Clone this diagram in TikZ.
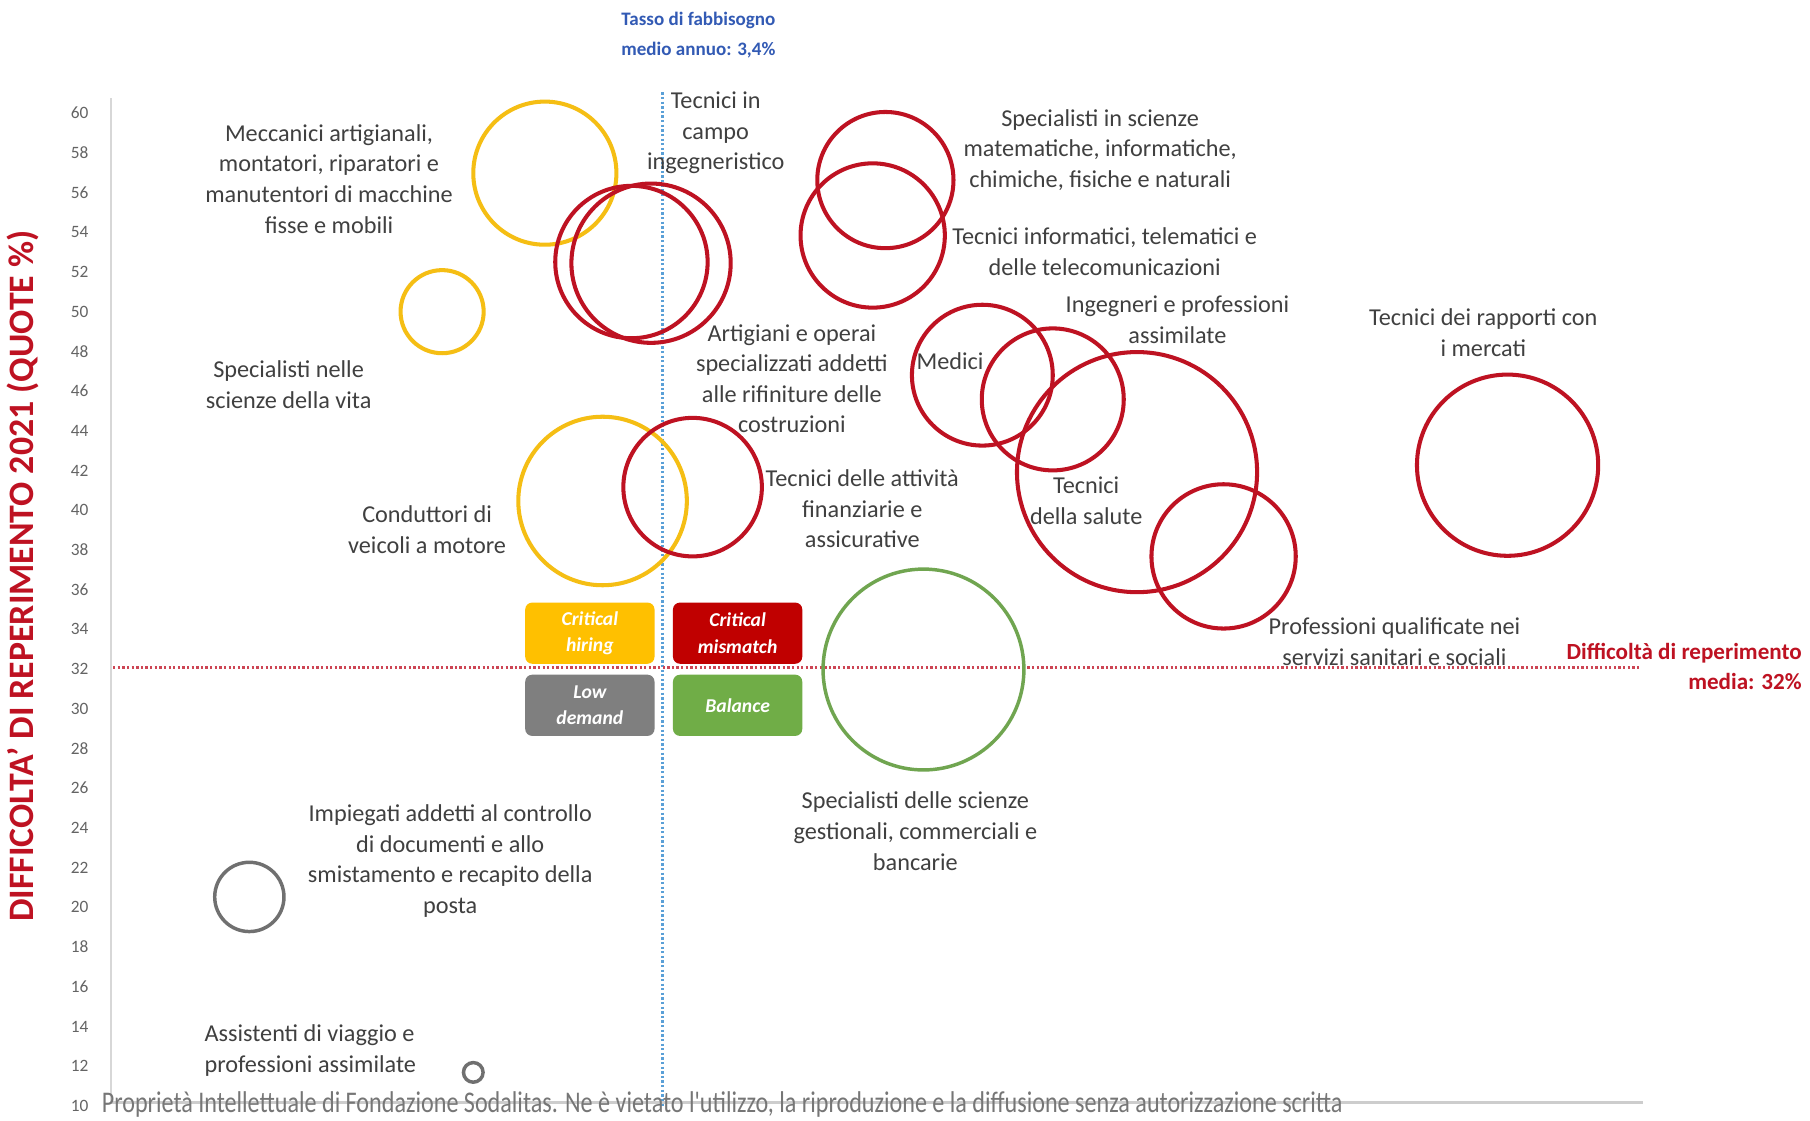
\documentclass[tikz,border=0pt]{standalone}
\usepackage{fontspec}
\setmainfont{Carlito}
\definecolor{cred}{RGB}{190,18,34}
\definecolor{cyel}{RGB}{245,190,20}
\definecolor{cgrn}{RGB}{112,165,80}
\definecolor{cgry}{RGB}{112,112,112}
\definecolor{ctext}{RGB}{64,64,64}
\definecolor{ctick}{RGB}{100,100,100}
\definecolor{cblue}{RGB}{50,90,180}
\definecolor{cdash}{RGB}{90,160,215}
\definecolor{chline}{RGB}{205,70,85}
\definecolor{boxy}{RGB}{255,192,0}
\definecolor{boxr}{RGB}{192,0,0}
\definecolor{boxg}{RGB}{112,173,71}
\definecolor{boxk}{RGB}{127,127,127}
\begin{document}
\begin{tikzpicture}[x=1pt,y=-1pt,
  lbl/.style={align=center, text=ctext, font=\fontsize{21}{26.5}\selectfont, inner sep=0pt},
  bub/.style={circle, inner sep=0pt, line width=3.5pt},
  redc/.style={bub, draw=cred},
  yelc/.style={bub, draw=cyel},
  grnc/.style={bub, draw=cgrn, line width=3pt},
  gryc/.style={bub, draw=cgry, line width=3pt},
  quad/.style={rounded corners=6pt, minimum width=112pt, minimum height=53pt, inner sep=0pt, align=center, text=white, font=\fontsize{17}{23}\selectfont\bfseries\itshape},
  tick/.style={text=ctick, font=\fontsize{15}{15}\selectfont, inner sep=0pt}
]
\useasboundingbox[fill=white] (0,0) rectangle (1568,971);

% axes
\draw[line width=1.5pt, draw={rgb,255:red,215;green,215;blue,215}] (96,85) -- (96,956);
\draw[line width=3pt, draw={rgb,255:red,205;green,205;blue,205}] (96,955) -- (1423,955);

% ticks
\foreach \v in {12,14,...,60}
  \node[tick] (t\v) at (69,{98+(60-\v)*17.2}) {\v};
\node[tick] (t10) at (69,958) {10};

% y label
\node[rotate=90, text=cred, font=\fontsize{31}{31}\selectfont\bfseries, inner sep=0pt] (ylab) at (20,499) {DIFFICOLTA' DI REPERIMENTO 2021 (QUOTE \%)};

% reference lines
\draw[line width=2pt, draw=cdash, dash pattern=on 2pt off 2pt] (574,80) -- (574,958);
\draw[line width=2.5pt, draw=chline, dash pattern=on 2pt off 2pt] (98,578) -- (1420,578);

% top and right labels
\node[align=center, text=cblue, font=\fontsize{16.5}{26}\selectfont\bfseries, inner sep=0pt] (tasso) at (605,30) {Tasso di fabbisogno\\medio annuo: 3,4\%};
\node[align=right, text=cred, font=\fontsize{20}{26}\selectfont\bfseries, inner sep=0pt, anchor=east] (diff) at (1561,577) {Difficoltà di reperimento\\media: 32\%};

% quadrant boxes
\node[quad, fill=boxy] (qch) at (511,548.5) {Critical\\hiring};
\node[quad, fill=boxr] (qcm) at (639,548.5) {Critical\\mismatch};
\node[quad, fill=boxk] (qld) at (511,611) {Low\\demand};
\node[quad, fill=boxg] (qbl) at (639,611) {Balance};

% bubbles
\node[yelc, minimum size=124pt] (b1) at (472,150) {};
\node[yelc, minimum size=72pt] (b2) at (383,270) {};
\node[yelc, minimum size=146pt] (b3) at (522,434) {};
\node[redc, minimum size=132pt] (b4) at (547,227) {};
\node[redc, minimum size=138pt] (b5) at (564,228) {};
\node[redc, minimum size=118pt] (b6) at (767,156) {};
\node[redc, minimum size=125pt] (b7) at (756,204) {};
\node[redc, minimum size=120pt] (b8) at (600,422) {};
\node[redc, minimum size=122pt] (b9) at (851,325) {};
\node[redc, minimum size=123pt] (b10) at (912,346) {};
\node[redc, minimum size=208pt] (b11) at (985,409) {};
\node[redc, minimum size=125pt] (b12) at (1060,482) {};
\node[redc, minimum size=157pt] (b13) at (1306,403) {};
\node[grnc, minimum size=174pt] (b14) at (800,580) {};
\node[gryc, minimum size=60pt] (b15) at (216,777) {};
\node[gryc, minimum size=17pt] (b16) at (410,929) {};

% labels
\node[lbl] (l1) at (285,155) {Meccanici artigianali,\\montatori, riparatori e\\manutentori di macchine\\fisse e mobili};
\node[lbl] (l2) at (620,115) {Tecnici in\\campo\\ingegneristico};
\node[lbl] (l3) at (953,130) {Specialisti in scienze\\matematiche, informatiche,\\chimiche, fisiche e naturali};
\node[lbl] (l4) at (957,218) {Tecnici informatici, telematici e\\delle telecomunicazioni};
\node[lbl] (l5) at (1020,277) {Ingegneri e professioni\\assimilate};
\node[lbl] (l6) at (1285,288) {Tecnici dei rapporti con\\i mercati};
\node[lbl] (l7) at (823,313) {Medici};
\node[lbl] (l8) at (686,328) {Artigiani e operai\\specializzati addetti\\alle rifiniture delle\\costruzioni};
\node[lbl] (l9) at (250,333) {Specialisti nelle\\scienze della vita};
\node[lbl] (l10) at (747,441) {Tecnici delle attività\\finanziarie e\\assicurative};
\node[lbl] (l11) at (941,434) {Tecnici\\della salute};
\node[lbl] (l12) at (370,459) {Conduttori di\\veicoli a motore};
\node[lbl] (l13) at (1208,556) {Professioni qualificate nei\\servizi sanitari e sociali};
\node[lbl] (l14) at (793,720) {Specialisti delle scienze\\gestionali, commerciali e\\bancarie};
\node[lbl] (l15) at (390,746) {Impiegati addetti al controllo\\di documenti e allo\\smistamento e recapito della\\posta};
\node[lbl, align=left, anchor=west] (l16) at (177,910) {Assistenti di viaggio e\\professioni assimilate};

% watermark
\node[anchor=base west, inner sep=0pt, text={rgb,255:red,118;green,118;blue,118}] (wm) at (88,964) {\resizebox{1075pt}{\height}{\fontsize{26}{26}\selectfont Proprietà Intellettuale di Fondazione Sodalitas. Ne è vietato l\textquotesingle utilizzo, la riproduzione e la diffusione senza autorizzazione scritta}};
\end{tikzpicture}
\end{document}
